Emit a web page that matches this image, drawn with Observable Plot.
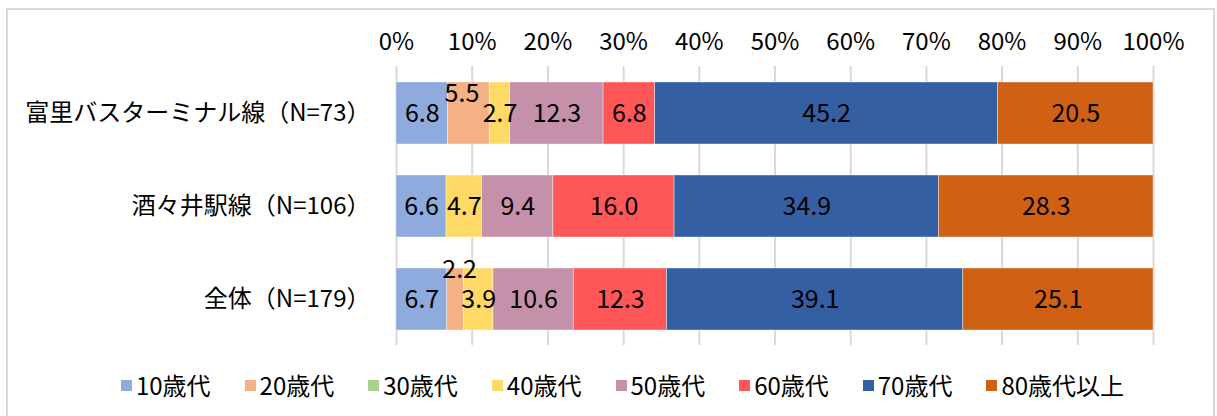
<!DOCTYPE html>
<html>
<head>
<meta charset="utf-8">
<script src="https://cdn.jsdelivr.net/npm/d3@7"></script>
<script src="https://cdn.jsdelivr.net/npm/@observablehq/plot@0.6"></script>
<style>
  html, body { margin: 0; padding: 0; background: #fff; }
  body { width: 1217px; height: 416px; position: relative; overflow: hidden; font-family: "Noto Sans CJK JP", sans-serif; }
  #frame { position: absolute; left: 6px; top: 8px; width: 1209px; height: 430px; border: 2px solid #d9d9d9; box-sizing: border-box; }
  #chart { position: absolute; left: 0; top: 0; }
  #legend { position: absolute; left: 0; top: 372px; width: 1217px; display: flex; justify-content: center; gap: 34px; font-size: 24px; line-height: 26px; color: #000; padding-left: 28px; box-sizing: border-box; }
  #legend .item { display: flex; align-items: center; white-space: nowrap; }
  #legend .sw { width: 11px; height: 11px; margin-right: 4px; display: inline-block; }
</style>
</head>
<body>
<div id="frame"></div>
<div id="chart"></div>
<div id="legend"></div>
<script>
// ---- data ----
const categories = ["富里バスターミナル線（N=73）", "酒々井駅線（N=106）", "全体（N=179）"];
const series = ["10歳代", "20歳代", "30歳代", "40歳代", "50歳代", "60歳代", "70歳代", "80歳代以上"];
const colors = ["#8FAADC", "#F4B183", "#A9D18E", "#FFD966", "#C490AA", "#FF5757", "#355FA3", "#D06014"];
const valuesTomisato = [6.8, 5.5, 0, 2.7, 12.3, 6.8, 45.2, 20.5];
const valuesShisui = [6.6, 0, 0, 4.7, 9.4, 16.0, 34.9, 28.3];
const valuesTotal = [6.7, 2.2, 0, 3.9, 10.6, 12.3, 39.1, 25.1];
const xTicks = [0, 10, 20, 30, 40, 50, 60, 70, 80, 90, 100];

const rows = [valuesTomisato, valuesShisui, valuesTotal];
const data = [];
categories.forEach((cat, i) => {
  series.forEach((s, j) => {
    data.push({cat, series: s, value: rows[i][j]});
  });
});

const tickFractions = xTicks.map(t => t / 100);
const fmt = d3.format(".1f");
const stackOpts = (extra) => Plot.stackX({
  x: "value", y: "cat", z: "series", offset: "normalize", ...extra
});

// labels that do not fit are lifted above the segment (as in the source chart)
const isLifted = d => d.series === "20歳代" && d.value > 0;
const normalText = d => (d.value > 0 && !isLifted(d)) ? fmt(d.value) : "";
const liftedBig = d => (isLifted(d) && d.value >= 3) ? fmt(d.value) : "";
const liftedSmall = d => (isLifted(d) && d.value < 3) ? fmt(d.value) : "";

const chart = Plot.plot({
  width: 1217,
  height: 360,
  marginLeft: 396,
  marginRight: 64,
  marginTop: 66,
  marginBottom: 15,
  style: { fontFamily: "'Noto Sans CJK JP', sans-serif", fontSize: "22px", color: "#000", background: "transparent" },
  x: { domain: [0, 1], label: null },
  y: { domain: categories, paddingInner: 1/3, paddingOuter: 1/6, label: null },
  color: { domain: series, range: colors },
  marks: [
    Plot.gridX(tickFractions, { stroke: "#d9d9d9", strokeWidth: 2, strokeOpacity: 1 }),
    Plot.barX(data.filter(d => d.value > 0), stackOpts({ fill: "series", stroke: "#ffffff", strokeWidth: 0.75, strokeOpacity: 0.5 })),
    Plot.text(data, stackOpts({ text: normalText, fill: "#000", fontSize: 25 })),
    Plot.text(data, stackOpts({ text: liftedBig, fill: "#000", fontSize: 25, dy: -20, dx: -7 })),
    Plot.text(data, stackOpts({ text: liftedSmall, fill: "#000", fontSize: 25, dy: -30, dx: 4 })),
    Plot.axisX(tickFractions, { anchor: "top", tickSize: 0, tickPadding: 17, tickFormat: d => Math.round(d * 100) + "%", fontSize: 24, label: null }),
    Plot.axisY({ tickSize: 0, tickPadding: 26, fontSize: 24, label: null })
  ]
});
document.getElementById("chart").append(chart);

// ---- legend ----
const legend = d3.select("#legend");
series.forEach((s, i) => {
  const item = legend.append("div").attr("class", "item");
  item.append("span").attr("class", "sw").style("background", colors[i]);
  item.append("span").text(s);
});
</script>
</body>
</html>
